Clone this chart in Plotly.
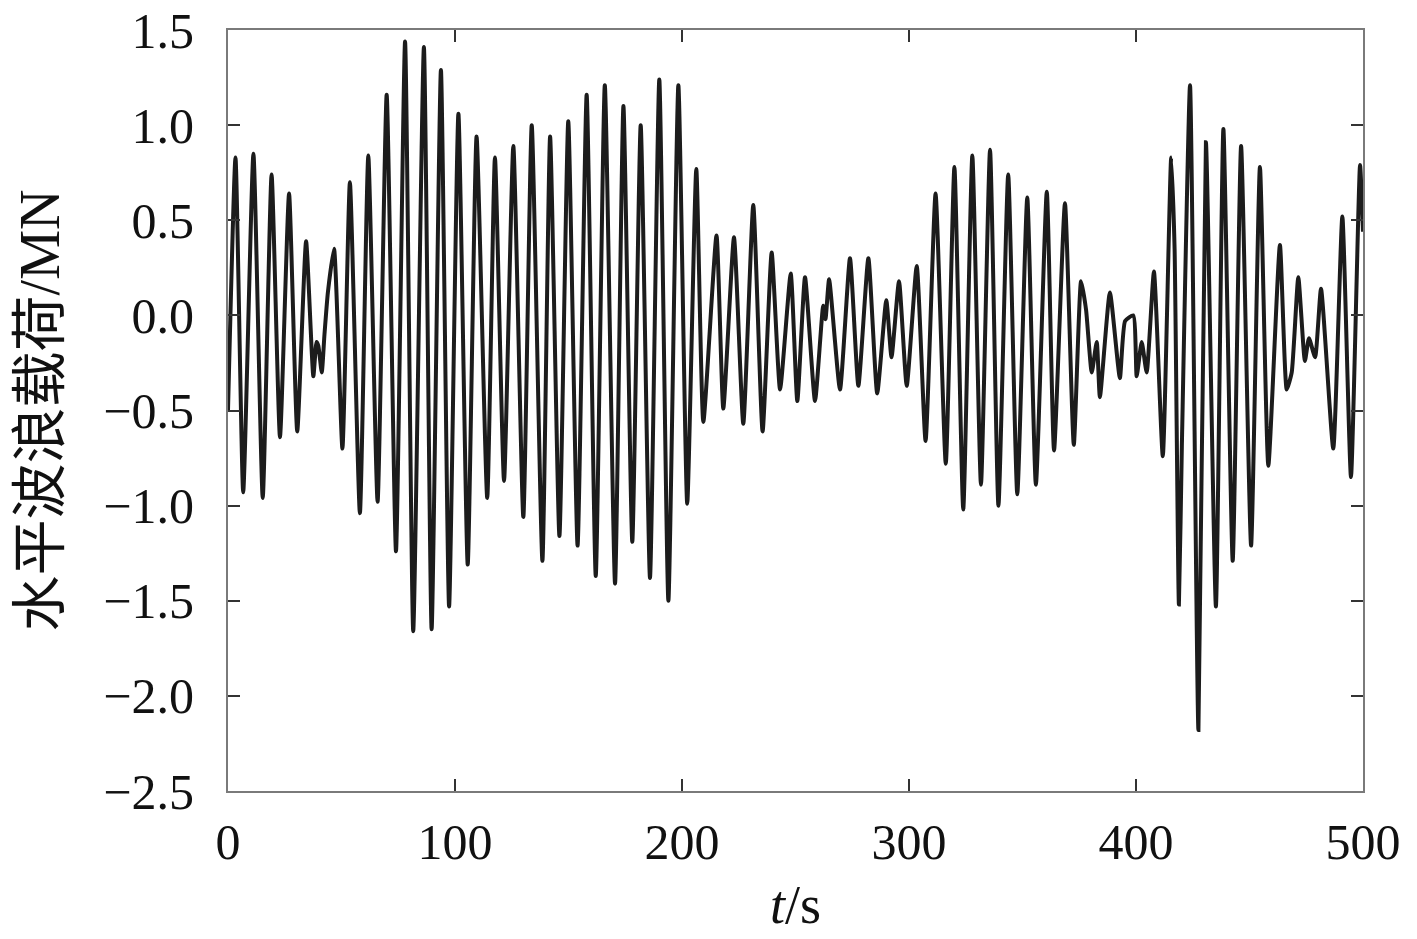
import plotly.graph_objects as go

# ================= DATA (peaks / troughs) ========================================
t_s = [
    0.0, 3.3, 6.7, 11.2, 15.3, 19.2, 22.9, 26.9, 30.5, 34.4, 37.6, 39.0,
    39.8, 41.3, 42.5, 44.0, 46.7, 50.4, 53.7, 58.1, 61.8, 65.9, 69.9, 74.0,
    78.0, 81.6, 86.3, 89.7, 93.8, 97.4, 101.5, 105.6, 109.5, 114.2, 117.6, 121.6,
    125.7, 130.1, 133.8, 138.5, 141.9, 146.0, 149.9, 154.0, 158.0, 162.0, 166.0, 170.5,
    174.2, 178.1, 181.8, 185.9, 190.0, 194.0, 198.4, 202.3, 206.3, 209.4, 215.2, 218.2,
    222.9, 227.0, 231.4, 235.5, 239.5, 243.2, 247.9, 250.8, 254.2, 258.6, 262.2, 263.2,
    264.8, 269.6, 274.0, 277.7, 282.1, 286.0, 290.0, 292.3, 295.6, 299.0, 303.4, 307.3,
    311.7, 316.2, 320.0, 323.9, 327.9, 331.7, 335.7, 339.4, 343.7, 347.7, 352.1, 355.9,
    360.7, 363.9, 368.7, 372.6, 375.8, 378.0, 380.5, 382.7, 384.1, 388.5, 392.9, 395.2,
    398.8, 400.3, 402.5, 404.7, 407.9, 411.8, 415.5, 417.0, 418.9, 420.2, 423.8, 427.5,
    430.8, 435.2, 438.5, 442.6, 446.3, 450.7, 454.6, 458.3, 463.4, 466.4, 468.6, 471.5,
    474.4, 476.2, 478.9, 481.5, 486.9, 490.9, 494.7, 498.7, 500.0,
]
load_mn = [
    -0.50, 0.83, -0.93, 0.85, -0.96, 0.74, -0.64, 0.64, -0.61, 0.39, -0.32, -0.14,
    -0.16, -0.30, -0.10, 0.12, 0.35, -0.70, 0.70, -1.04, 0.84, -0.98, 1.16, -1.24,
    1.44, -1.66, 1.41, -1.65, 1.29, -1.53, 1.06, -1.31, 0.94, -0.96, 0.83, -0.87,
    0.89, -1.06, 1.00, -1.29, 0.94, -1.16, 1.02, -1.21, 1.16, -1.37, 1.21, -1.41,
    1.10, -1.19, 1.00, -1.38, 1.24, -1.50, 1.21, -0.99, 0.77, -0.56, 0.42, -0.49,
    0.41, -0.57, 0.58, -0.61, 0.33, -0.39, 0.22, -0.45, 0.20, -0.45, 0.05, -0.02,
    0.19, -0.39, 0.30, -0.37, 0.30, -0.41, 0.08, -0.22, 0.18, -0.37, 0.26, -0.66,
    0.64, -0.78, 0.78, -1.02, 0.84, -0.89, 0.87, -1.00, 0.74, -0.94, 0.62, -0.89,
    0.65, -0.71, 0.59, -0.68, 0.18, 0.03, -0.30, -0.14, -0.43, 0.12, -0.33, -0.03,
    0.00, -0.32, -0.14, -0.30, 0.23, -0.74, 0.83, 0.35, -1.52, -0.69, 1.21, -2.18,
    0.91, -1.53, 0.98, -1.29, 0.89, -1.21, 0.78, -0.79, 0.37, -0.39, -0.30, 0.20,
    -0.24, -0.12, -0.22, 0.14, -0.70, 0.52, -0.85, 0.79, 0.44,
]

X_TICKS = [0, 100, 200, 300, 400, 500]
Y_TICKS = [1.5, 1.0, 0.5, 0.0, -0.5, -1.0, -1.5, -2.0, -2.5]

SERIF = "Liberation Serif, Times New Roman, Noto Sans CJK SC, serif"
INK = "#111111"

# ===========================================
fig = go.Figure()
fig.add_trace(go.Scatter(
    x=t_s, y=load_mn, mode="lines",
    line=dict(color="#1c1c1c", width=4, shape="spline", smoothing=0.5),
    showlegend=False,
))

axis_common = dict(
    showgrid=False, zeroline=False, automargin=False,
    showline=True, linecolor="#7a7a7a", linewidth=2, mirror="ticks",
    ticks="inside", ticklen=12, tickwidth=2, tickcolor="#333333",
    tickfont=dict(family=SERIF, size=50, color=INK),
    ticklabeloverflow="allow",
)

fig.update_xaxes(
    range=[0, 500], tickvals=X_TICKS, ticktext=[str(v) for v in X_TICKS],
    ticklabelstandoff=6,
    title=dict(text="<i>t</i>/s", font=dict(family=SERIF, size=54, color=INK), standoff=16),
    **axis_common,
)
fig.update_yaxes(
    range=[-2.5, 1.5], tickvals=Y_TICKS,
    ticktext=[f"{v:.1f}".replace("-", "\u2212") for v in Y_TICKS],
    ticklabelstandoff=22,
    title=dict(text="水平波浪载荷/MN", font=dict(family=SERIF, size=56, color=INK), standoff=26),
    **axis_common,
)

# page body adds ~8px offset, so margins are shifted to compensate
fig.update_layout(
    width=1417, height=939,
    margin=dict(l=220, r=62, t=22, b=156),
    paper_bgcolor="white", plot_bgcolor="white",
)

fig.write_html("out.html")
